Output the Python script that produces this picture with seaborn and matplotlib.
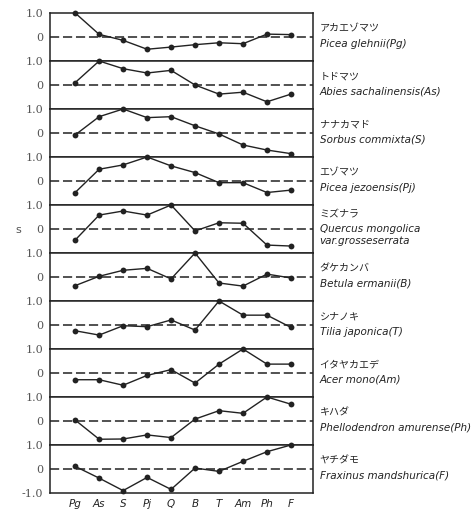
import matplotlib
matplotlib.use("Agg")
import matplotlib.pyplot as plt
import seaborn as sns
import pandas as pd

sns.set_theme(style="white")
plt.rcParams['font.family'] = ['DejaVu Sans']

categories = ["Pg", "As", "S", "Pj", "Q", "B", "T", "Am", "Ph", "F"]

jp_names = ["アカエゾマツ", "トドマツ", "ナナカマド", "エゾマツ", "ミズナラ",
            "ダケカンバ", "シナノキ", "イタヤカエデ", "キハダ", "ヤチダモ"]
latin_names = ["Picea glehnii(Pg)", "Abies sachalinensis(As)", "Sorbus commixta(S)",
               "Picea jezoensis(Pj)", "Quercus mongolica\nvar.grosseserrata",
               "Betula ermanii(B)", "Tilia japonica(T)", "Acer mono(Am)",
               "Phellodendron amurense(Ph)", "Fraxinus mandshurica(F)"]

s_Pg = [1.0, 0.11, -0.14, -0.51, -0.42, -0.32, -0.24, -0.28, 0.12, 0.10]
s_As = [0.10, 1.0, 0.68, 0.50, 0.61, 0.0, -0.38, -0.30, -0.70, -0.38]
s_S = [-0.08, 0.68, 1.0, 0.64, 0.68, 0.30, -0.04, -0.50, -0.71, -0.86]
s_Pj = [-0.48, 0.49, 0.67, 1.0, 0.63, 0.35, -0.07, -0.07, -0.48, -0.38]
s_Q = [-0.46, 0.58, 0.75, 0.58, 1.0, -0.08, 0.26, 0.24, -0.67, -0.71]
s_B = [-0.36, 0.03, 0.28, 0.36, -0.08, 1.0, -0.25, -0.38, 0.12, -0.04]
s_T = [-0.24, -0.42, -0.03, -0.07, 0.21, -0.21, 1.0, 0.41, 0.41, -0.10]
s_Am = [-0.28, -0.28, -0.51, -0.10, 0.14, -0.42, 0.37, 1.0, 0.37, 0.37]
s_Ph = [0.04, -0.76, -0.75, -0.58, -0.69, 0.08, 0.43, 0.32, 1.0, 0.70]
s_F = [0.11, -0.38, -0.90, -0.35, -0.85, 0.04, -0.10, 0.32, 0.72, 1.0]

series = [s_Pg, s_As, s_S, s_Pj, s_Q, s_B, s_T, s_Am, s_Ph, s_F]

fig = plt.figure(figsize=(4.74, 5.13), dpi=100)
left, right = 50 / 474, 313 / 474
top, bottom = 1 - 13 / 513, 1 - 493 / 513
n = len(series)
h = (top - bottom) / n
ink = "#222222"
grey = "#555555"
jp_font = ["Noto Sans CJK JP", "DejaVu Sans"]

for i, vals in enumerate(series):
    ax = fig.add_axes([left, top - (i + 1) * h, right - left, h])
    df = pd.DataFrame({"x": list(range(len(categories))), "s": vals})
    sns.lineplot(data=df, x="x", y="s", ax=ax, color=ink, lw=1.0,
                 marker="o", markersize=4.2, markeredgewidth=0,
                 markerfacecolor=ink, clip_on=False)
    ax.axhline(0, color=ink, lw=1.1, ls=(0, (6, 2.5)), zorder=1)
    ax.set_xlim(-1.05, 9.92)
    ax.set_ylim(-1, 1)
    ax.set_xlabel("")
    ax.set_ylabel("")
    for sp in ax.spines.values():
        sp.set_color(ink)
        sp.set_linewidth(1.1)
    if i < n - 1:
        ax.set_yticks([1, 0])
        ax.set_yticklabels(["1.0", "0"])
        ax.set_xticks([])
    else:
        ax.set_yticks([1, 0, -1])
        ax.set_yticklabels(["1.0", "0", "-1.0"])
        ax.set_xticks(range(len(categories)))
        ax.set_xticklabels(categories, fontstyle="italic", fontsize=7.5, color=ink)
    ax.tick_params(axis="y", length=0, pad=5, labelsize=8, labelcolor=grey)
    ax.tick_params(axis="x", length=0, pad=4)
    for lab in ax.get_yticklabels():
        lab.set_family("DejaVu Serif")

    if "\n" in latin_names[i]:
        ax.text(1.025, 0.81, jp_names[i], transform=ax.transAxes, fontsize=7.2,
                family=jp_font, color=ink, va="center", ha="left")
        ax.text(1.025, 0.38, latin_names[i], transform=ax.transAxes, fontsize=7.5,
                fontstyle="italic", color=ink, va="center", ha="left", linespacing=1.25)
    else:
        ax.text(1.025, 0.68, jp_names[i], transform=ax.transAxes, fontsize=7.2,
                family=jp_font, color=ink, va="center", ha="left")
        ax.text(1.025, 0.36, latin_names[i], transform=ax.transAxes, fontsize=7.5,
                fontstyle="italic", color=ink, va="center", ha="left")

fig.text(18 / 474, 1 - 230 / 513, "s", fontsize=8, color=grey, ha="center", va="center")

fig.savefig("out.png", dpi=100, facecolor="white")
